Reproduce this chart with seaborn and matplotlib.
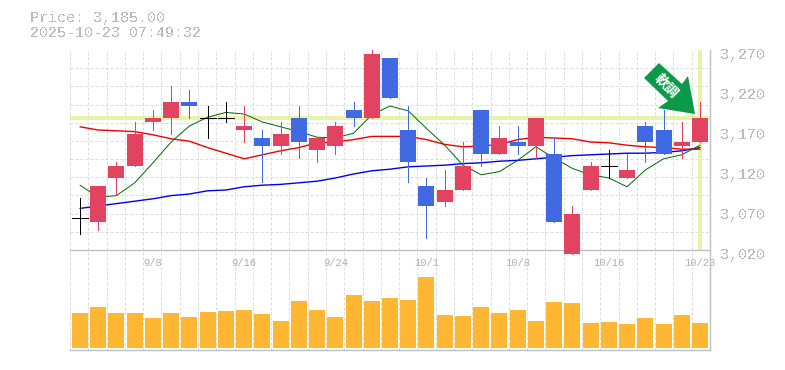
import matplotlib
matplotlib.use('Agg')
import matplotlib.pyplot as plt
import matplotlib.transforms as mtrans
from matplotlib.patches import Polygon
import numpy as np
import pandas as pd
import seaborn as sns

days = list(range(35))
opens = [3060, 3055, 3110, 3125, 3180, 3185, 3205, 3185, 3185, 3170, 3160, 3150, 3185, 3145, 3150, 3195, 3185, 3260,
         3170, 3100, 3080, 3095, 3195, 3140, 3155, 3150, 3140, 3015, 3095, 3125, 3110, 3175, 3170, 3150, 3155]
closes = [3060, 3100, 3125, 3165, 3185, 3205, 3200, 3185, 3185, 3175, 3150, 3165, 3155, 3160, 3175, 3185, 3265, 3210,
          3130, 3075, 3095, 3125, 3140, 3160, 3150, 3185, 3055, 3065, 3125, 3125, 3120, 3155, 3140, 3155, 3185]
highs = [3085, 3100, 3130, 3180, 3195, 3225, 3220, 3200, 3205, 3200, 3170, 3180, 3200, 3160, 3180, 3205, 3270, 3260,
         3200, 3110, 3120, 3155, 3195, 3175, 3175, 3185, 3160, 3075, 3130, 3145, 3140, 3180, 3195, 3180, 3205]
lows = [3040, 3045, 3090, 3125, 3170, 3165, 3185, 3160, 3180, 3155, 3105, 3140, 3135, 3130, 3140, 3175, 3185, 3210,
        3105, 3035, 3075, 3095, 3125, 3140, 3140, 3135, 3055, 3015, 3095, 3110, 3110, 3130, 3140, 3135, 3155]
ma_short = [3101, 3086, 3088, 3104, 3129, 3155, 3175, 3186, 3192, 3190, 3180, 3174, 3168, 3161, 3160, 3166, 3189, 3200,
            3194, 3172, 3151, 3126, 3114, 3118, 3132, 3149, 3135, 3122, 3114, 3110, 3099, 3120, 3134, 3139, 3151]
ma_mid = [3174, 3170, 3169, 3168, 3164, 3159, 3156, 3148, 3141, 3134, 3139, 3144, 3148, 3154, 3155, 3158, 3162, 3162,
          3162, 3158, 3152, 3149, 3150, 3152, 3158, 3161, 3160, 3159, 3155, 3154, 3151, 3149, 3148, 3146, 3146]
ma_long = [3072, 3075, 3078, 3081, 3084, 3088, 3090, 3094, 3095, 3099, 3101, 3102, 3104, 3106, 3110, 3115, 3119, 3121,
           3124, 3125, 3126, 3128, 3129, 3131, 3132, 3134, 3136, 3138, 3139, 3140, 3141, 3141, 3142, 3144, 3148]
volumes = [35, 41, 35, 35, 30, 35, 31, 36, 37, 38, 34, 27, 47, 38, 31, 53, 47, 50,
           48, 71, 33, 32, 41, 35, 38, 27, 46, 45, 25, 26, 24, 30, 24, 33, 25]
price_ticks = [3020, 3070, 3120, 3170, 3220, 3270]
date_ticks = [4, 9, 14, 19, 24, 29, 34]
date_labels = ['9/8', '9/16', '9/24', '10/1', '10/8', '10/16', '10/23']
last_price = 3185

W, H = 785, 370
RED = '#e24360'
BLUE = '#4169e1'
GRID = '#dcdcdc'
TXT = '#bbbbbb'

sns.set_theme(style='white')
plt.rcParams['font.family'] = ['Liberation Mono', 'DejaVu Sans']
plt.rcParams['text.antialiased'] = False

df = pd.DataFrame({'day': days, 'open': opens, 'close': closes, 'high': highs, 'low': lows,
                   'short': ma_short, 'mid': ma_mid, 'long': ma_long, 'volume': volumes})
df['height'] = df['close'] - df['open']

fig = plt.figure(figsize=(W / 100, H / 100), dpi=100)
ax_vol = fig.add_axes([70 / W, 1 - 350 / H, 640 / W, 100 / H])
ax = fig.add_axes([70 / W, 1 - 250 / H, 640 / W, 200 / H])
ax.set_zorder(2)
ax.patch.set_visible(False)
xlim = (-0.548, 34.548)

# grid first, everything else sits on it
for a in (ax, ax_vol):
    a.set_axisbelow(True)
    a.set_xticks(np.linspace(xlim[0], xlim[1], 36)[:-1], minor=True)
    a.grid(which='minor', axis='x', color=GRID, lw=0.72, ls=(0, (3, 2)))
    a.grid(which='major', visible=False)
    a.tick_params(which='both', length=0)
    for side in ('left', 'top'):
        a.spines[side].set_visible(False)
    for side in ('right', 'bottom'):
        a.spines[side].set_color('#c0c0c0')
        a.spines[side].set_linewidth(1.0)
ax.set_yticks(np.linspace(3020, 3270, 12)[1:], minor=True)
ax.grid(which='minor', axis='y', color=GRID, lw=0.72, ls=(0, (3, 2)))

# last price markers
ax.axhline(last_price, color='#e4f5a8', lw=2.6, zorder=1, antialiased=False)
ax.axvline(days[-1], color='#e4f5a8', lw=2.6, zorder=1, antialiased=False)

# moving averages
for col, c, lw in [('long', '#0000f0', 1.0), ('mid', '#f00000', 1.0), ('short', '#006800', 0.7)]:
    sns.lineplot(data=df, x='day', y=col, color=c, linewidth=lw, ax=ax, estimator=None, errorbar=None,
                 antialiased=True, zorder=2)

# wicks
wick_colors = [RED if c > o else BLUE if c < o else 'black' for o, c in zip(opens, closes)]
ax.vlines(df['day'], df['low'], df['high'], colors=wick_colors, lw=0.7, zorder=3, clip_on=False,
          antialiased=False)

# doji bars
flat = df[df['height'] == 0]
ax.hlines(flat['close'], flat['day'] - 0.44, flat['day'] + 0.44, colors='black', lw=0.7, zorder=4,
          antialiased=False)

# candle bodies
for part, c in [(df[df['height'] > 0], RED), (df[df['height'] < 0], BLUE)]:
    sns.barplot(data=part, x='day', y='height', bottom=part['open'].values, native_scale=True, color=c,
                saturation=1, width=0.877, linewidth=0, errorbar=None, ax=ax, zorder=4, clip_on=False,
                antialiased=False)

# volume
sns.barplot(data=df, x='day', y='volume', native_scale=True, color='#ffb733', saturation=1, width=0.877,
            linewidth=0, errorbar=None, ax=ax_vol, zorder=3, antialiased=False)

ax.set_xlim(xlim)
ax.set_ylim(3020, 3270)
ax_vol.set_xlim(xlim)
ax_vol.set_ylim(-2, 98)
ax.set_xlabel('')
ax.set_ylabel('')
ax_vol.set_xlabel('')
ax_vol.set_ylabel('')
ax_vol.set_yticks([])
ax_vol.set_xticks([])

ax.yaxis.tick_right()
ax.set_yticks(price_ticks)
ax.set_yticklabels([f'{p:,}' for p in price_ticks], fontsize=10.8, color=TXT)
ax.tick_params(axis='y', which='major', pad=7, length=0)
shift_y = mtrans.ScaledTranslation(0, -3 / 100, fig.dpi_scale_trans)
for lab in ax.get_yticklabels():
    lab.set_transform(lab.get_transform() + shift_y)

ax.set_xticks(date_ticks)
ax.set_xticklabels(date_labels, fontsize=7.6, color='#b0b0b0')
ax.tick_params(axis='x', which='major', pad=5.5, length=0)
for lab in ax.get_xticklabels():
    lab.set_antialiased(True)

fig.text(30 / W, 1 - 18 / H, 'Price: 3,185.00', fontsize=10.8, color=TXT, va='center', ha='left')
fig.text(30 / W, 1 - 33 / H, '2025-10-23 07:49:32', fontsize=10.8, color=TXT, va='center', ha='left')

# arrow badge, pixel coordinates of the picture
arrow_px = [(659, 63), (644, 78), (668, 101), (658, 108), (695, 114), (688, 76), (682, 84)]
fig.add_artist(Polygon([(x / W, 1 - y / H) for x, y in arrow_px], closed=True, facecolor='#0a9a48',
                       edgecolor='none', transform=fig.transFigure, zorder=10))
fig.text(666.5 / W, 1 - 86 / H, '軟調', fontsize=10, fontweight='bold', color='white', rotation=-45,
         ha='center', va='center', family=['Noto Sans CJK JP', 'DejaVu Sans'], rotation_mode='anchor',
         antialiased=True, zorder=11)

fig.savefig('out.png', dpi=100)
